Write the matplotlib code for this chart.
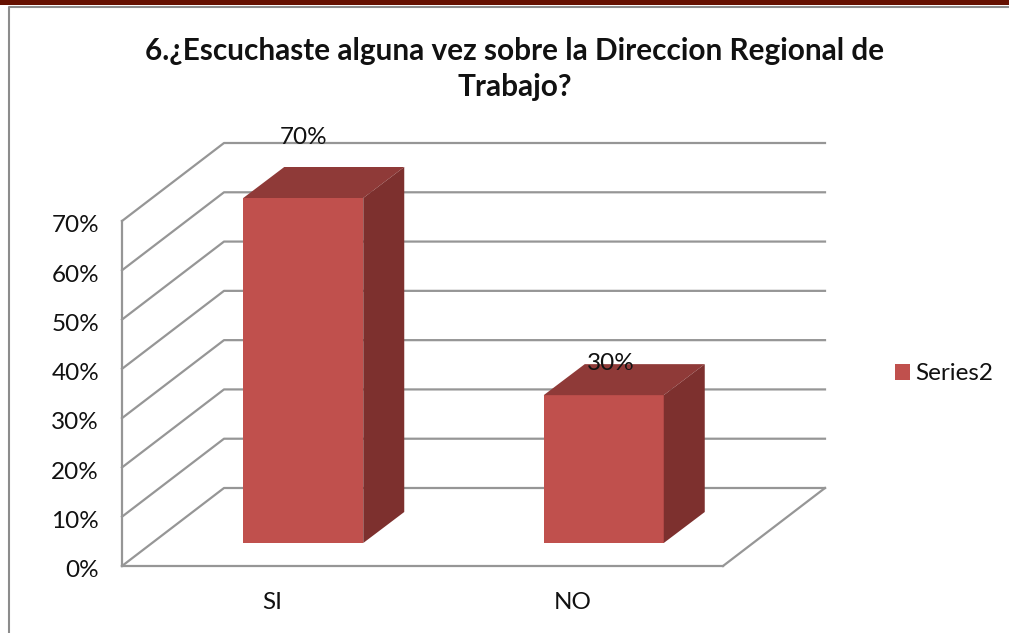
import matplotlib
matplotlib.use("Agg")
import matplotlib.pyplot as plt
from matplotlib.lines import Line2D
from matplotlib.patches import Polygon, Patch, Rectangle
from matplotlib.transforms import ScaledTranslation

categories = ["SI", "NO"]
values = [70, 30]
y_ticks = [0, 10, 20, 30, 40, 50, 60, 70]
series_name = "Series2"
title = "6.¿Escuchaste alguna vez sobre la Direccion Regional de\nTrabajo?"

W, H = 1009, 633
plt.rcParams['font.family'] = ['Lato', 'DejaVu Sans']

FRONT = '#C0504D'
TOP = '#8F3A38'
SIDE = '#7D302E'
GRID = '#969696'

fig = plt.figure(figsize=(W / 100, H / 100), dpi=100)
ax = fig.add_axes([122 / W, (H - 566) / H, 601 / W, 345 / H])
ax.set_xlim(0, 2)
ax.set_ylim(0, 70)

# pixel sizes of the fake 3d depth, in data units
px_x = 2 / 601
px_y = 70 / 345
depth_x = 102 * px_x
depth_y = 78 * px_y
bar_dx = 31 * px_x
bar_dy = 23 * px_y
bar_w = 120 * px_x
top_dx = 41 * px_x
top_dy = 31 * px_y

# walls and floor
for v in y_ticks:
    ax.plot([0, depth_x, 2 + depth_x], [v, v + depth_y, v + depth_y],
            color=GRID, lw=1.6, clip_on=False, zorder=1)
ax.plot([2, 2 + depth_x], [0, depth_y], color=GRID, lw=1.6, clip_on=False, zorder=1)

# bars
xs = [i + 0.5 + bar_dx for i in range(len(values))]
for x, v in zip(xs, values):
    ax.bar(x, v, width=bar_w, bottom=bar_dy, color=FRONT, zorder=3, clip_on=False)
    l, r = x - bar_w / 2, x + bar_w / 2
    t = v + bar_dy
    ax.add_patch(Polygon([(l, t), (l + top_dx, t + top_dy), (r + top_dx, t + top_dy), (r, t)],
                         closed=True, fc=TOP, ec='none', zorder=3, clip_on=False))
    ax.add_patch(Polygon([(r, bar_dy), (r + top_dx, bar_dy + top_dy), (r + top_dx, t + top_dy), (r, t)],
                         closed=True, fc=SIDE, ec='none', zorder=3, clip_on=False))

# data labels sit a little behind the bars (offsets in pixels)
label_dx = [0, 7]
label_dy = [61, 32]
for x, v, dx, dy in zip(xs, values, label_dx, label_dy):
    ax.text(x + dx * px_x, v + bar_dy + dy * px_y, "%d%%" % v, ha='center', va='center',
            fontsize=17.5, color='#111111', zorder=5, clip_on=False)

# axes
for side in ['top', 'right']:
    ax.spines[side].set_visible(False)
for side in ['left', 'bottom']:
    ax.spines[side].set_color(GRID)
    ax.spines[side].set_linewidth(1.6)
ax.set_xticks([i + 0.5 for i in range(len(categories))])
ax.set_xticklabels(categories)
ax.set_yticks(y_ticks)
ax.set_yticklabels(["%d%%" % v for v in y_ticks])
ax.tick_params(length=0, labelsize=17.5, labelcolor='#111111')
ax.tick_params(axis='x', pad=19)
ax.tick_params(axis='y', pad=16.5)
shift = ScaledTranslation(0, -2 / 72, fig.dpi_scale_trans)
for lab in ax.get_yticklabels():
    lab.set_transform(lab.get_transform() + shift)

fig.text(515 / W, 1 - 69 / H, title, ha='center', va='center', fontsize=21.4,
         fontweight='bold', color='#111111', linespacing=1.36)

fig.legend(handles=[Patch(facecolor=FRONT, label=series_name)],
           loc='center left', bbox_to_anchor=(883 / W, 1 - 374 / H), frameon=False,
           fontsize=17.5, handlelength=0.62, handleheight=0.62, handletextpad=0.22,
           borderpad=0, labelcolor='#111111')

# page band and chart frame from the source document
fig.add_artist(Rectangle((0, 1 - 5 / H), 1, 5 / H, transform=fig.transFigure,
                         fc='#651000', ec='none'))
fig.add_artist(Line2D([9 / W, 9 / W, 1], [0, 1 - 6.5 / H, 1 - 6.5 / H],
                      transform=fig.transFigure, color='#8c8c8c', lw=1.5))

fig.savefig("out.png", dpi=100)
